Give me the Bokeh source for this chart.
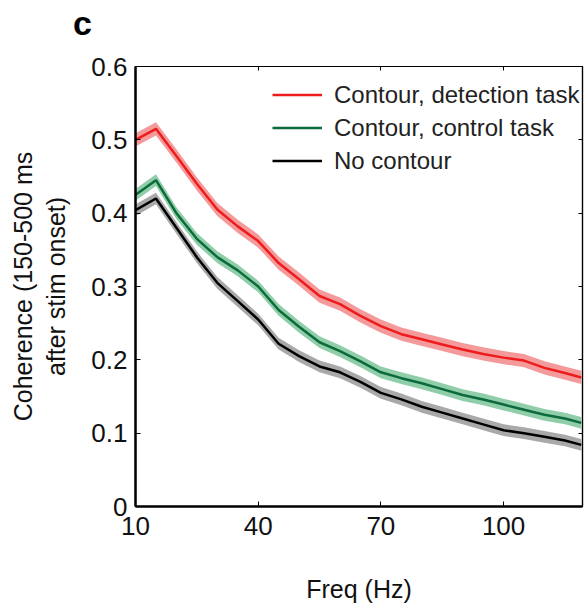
from bokeh.plotting import figure
from bokeh.models import Range1d, LinearAxis, Legend, Div, FixedTicker, CustomJSTickFormatter
from bokeh.layouts import column
from bokeh.embed import file_html
from bokeh.resources import INLINE

freq = [10, 15, 20, 25, 30, 35, 40, 45, 50, 55, 60, 65, 70, 75, 80, 85, 90, 95, 100, 105, 110, 115, 119]

detect = [0.500, 0.515, 0.478, 0.440, 0.405, 0.382, 0.362, 0.332, 0.310, 0.287, 0.276, 0.260,
          0.246, 0.235, 0.228, 0.221, 0.214, 0.208, 0.203, 0.199, 0.189, 0.182, 0.176]
control = [0.425, 0.445, 0.400, 0.365, 0.340, 0.322, 0.300, 0.268, 0.245, 0.224, 0.212, 0.198,
           0.183, 0.175, 0.168, 0.160, 0.152, 0.146, 0.139, 0.132, 0.125, 0.120, 0.114]
nocontour = [0.404, 0.420, 0.380, 0.340, 0.305, 0.280, 0.255, 0.222, 0.205, 0.191, 0.183, 0.170,
             0.155, 0.146, 0.136, 0.128, 0.120, 0.112, 0.104, 0.100, 0.095, 0.090, 0.084]
sem_detect = [0.009] * len(freq)
sem_control = [0.008] * len(freq)
sem_nocontour = [0.008] * len(freq)

labels = ["Contour, detection task", "Contour, control task", "No contour"]
x_ticks = [10, 40, 70, 100]
y_ticks = [0, 0.1, 0.2, 0.3, 0.4, 0.5, 0.6]

FONT = "Liberation Sans"

panel_tag = Div(text="c", width=585, height=40,
                styles={"font-family": FONT, "font-size": "34px", "font-weight": "bold",
                        "line-height": "40px", "padding-left": "73px", "padding-top": "3px",
                        "color": "black", "margin": "0"})

p = figure(width=585, height=566, output_backend="svg", toolbar_location=None,
           x_range=Range1d(10, 119.3), y_range=Range1d(0, 0.6),
           min_border_left=135, min_border_right=3, min_border_top=26, min_border_bottom=100)
p.xgrid.visible = False
p.ygrid.visible = False
p.outline_line_color = "black"
p.outline_line_width = 1.2
p.background_fill_color = "white"
p.border_fill_color = "white"

series = [
    (detect, sem_detect, "#ee1c1c", "#f2888a"),
    (control, sem_control, "#0b6b3a", "#7cc49a"),
    (nocontour, sem_nocontour, "#000000", "#9a9a9a"),
]
legend_items = []
for (vals, sem, lc, bc), lab in zip(series, labels):
    lo = [v - s for v, s in zip(vals, sem)]
    hi = [v + s for v, s in zip(vals, sem)]
    p.varea(x=freq, y1=lo, y2=hi, fill_color=bc, fill_alpha=0.85)
for (vals, sem, lc, bc), lab in zip(series, labels):
    r = p.line(freq, vals, line_color=lc, line_width=2.5)
    legend_items.append((lab, [r]))

legend = Legend(items=legend_items, location=(137, 329))
legend.border_line_alpha = 0
legend.background_fill_alpha = 0
legend.label_text_font = FONT
legend.label_text_font_size = "24px"
legend.label_text_color = "#222222"
legend.glyph_width = 50
legend.glyph_height = 33
legend.label_height = 33
legend.label_standoff = 12
legend.spacing = 0
legend.padding = 0
legend.margin = 0
p.add_layout(legend, "center")

for ax in (p.xaxis[0], p.yaxis[0]):
    ax.axis_line_width = 2.5
    ax.major_tick_in = 5
    ax.major_tick_out = 0
    ax.minor_tick_in = 0
    ax.minor_tick_out = 0
    ax.major_label_text_font = FONT
    ax.major_label_text_font_size = "26px"
    ax.major_label_text_color = "#111111"
    ax.axis_label_text_font = FONT
    ax.axis_label_text_font_size = "25px"
    ax.axis_label_text_font_style = "normal"
    ax.axis_label_text_color = "#111111"

p.xaxis[0].ticker = FixedTicker(ticks=x_ticks)
p.yaxis[0].ticker = FixedTicker(ticks=y_ticks)
p.yaxis[0].formatter = CustomJSTickFormatter(code="return tick == 0 ? '0' : tick.toFixed(1);")
p.xaxis[0].axis_label = "Freq (Hz)"
p.yaxis[0].axis_label = "Coherence (150-500 ms\nafter stim onset)"
p.xaxis[0].major_label_standoff = 10
p.yaxis[0].major_label_standoff = 8
p.xaxis[0].axis_label_standoff = 37
p.yaxis[0].axis_label_standoff = 18

top = LinearAxis(ticker=FixedTicker(ticks=x_ticks), major_label_text_alpha=0,
                 major_tick_in=4, major_tick_out=0, minor_tick_in=0, minor_tick_out=0,
                 axis_line_width=1.2, major_label_text_font_size="1px", major_label_standoff=0)
right = LinearAxis(ticker=FixedTicker(ticks=y_ticks), major_label_text_alpha=0,
                   major_tick_in=4, major_tick_out=0, minor_tick_in=0, minor_tick_out=0,
                   axis_line_width=1.2, major_label_text_font_size="1px", major_label_standoff=0)
p.add_layout(top, "above")
p.add_layout(right, "right")

layout = column(panel_tag, p, spacing=0)
open("out.html", "w").write(file_html(layout, INLINE))
